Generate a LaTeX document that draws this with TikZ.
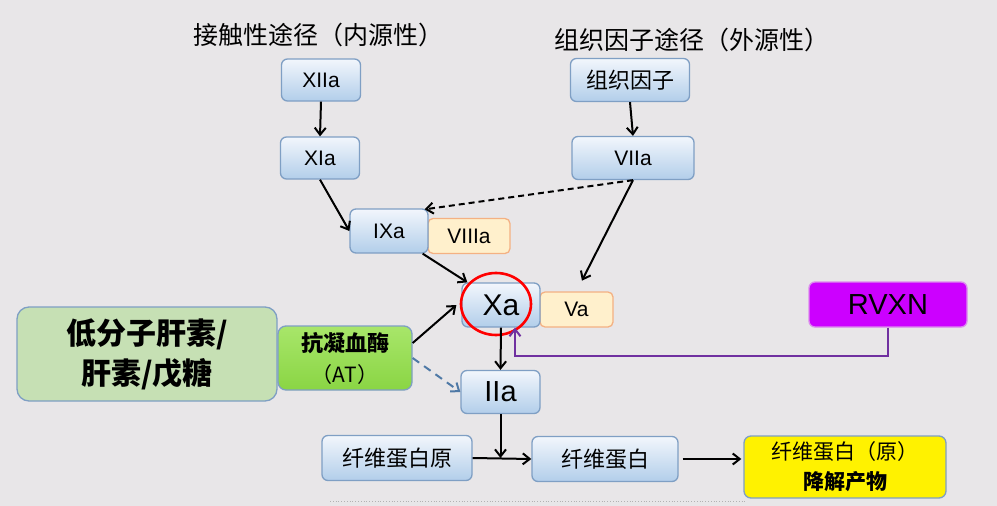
\documentclass[tikz,border=0pt]{standalone}
\usepackage{fontspec}
\setmainfont{Liberation Sans}
\newfontfamily\cjk{Noto Sans CJK SC}
\usepackage{xcolor}
\usetikzlibrary{arrows.meta, shapes.geometric}

\definecolor{bgc}{HTML}{E8E6E8}
\definecolor{bluetop}{HTML}{F2F6FC}
\definecolor{bluebot}{HTML}{B2CEEA}
\definecolor{blueline}{HTML}{7F9FC4}
\definecolor{orgfill}{HTML}{FFF0CC}
\definecolor{orgline}{HTML}{F4B183}
\definecolor{greenfill}{HTML}{C6E0B4}
\definecolor{limetop}{HTML}{A8E66A}
\definecolor{limebot}{HTML}{8AD544}
\definecolor{rvfill}{HTML}{CC00FF}
\definecolor{rvline}{HTML}{DC8AEE}
\definecolor{purplearr}{HTML}{7030A0}
\definecolor{dasharr}{HTML}{4F79A6}

\begin{document}
\begin{tikzpicture}[
    x=1pt, y=-1pt,
    >={Straight Barb[length=7pt,width=11pt]},
    factor/.style   = {draw=blueline, line width=1.3pt, rounded corners=6pt,
                       top color=bluetop, bottom color=bluebot,
                       inner sep=0pt, align=center,
                       font=\fontsize{21}{24}\selectfont},
    cofactor/.style = {draw=orgline, fill=orgfill, line width=1.3pt,
                       rounded corners=5pt, inner sep=0pt,
                       font=\fontsize{21}{24}\selectfont},
    drug/.style     = {draw=blueline, line width=1.3pt, rounded corners=12pt,
                       inner sep=0pt, align=center},
    head/.style     = {font=\cjk\fontsize{25}{28}\selectfont},
    arr/.style      = {->, line width=2pt},
    cn/.style       = {font=\cjk\fontsize{22}{26}\selectfont}
]

\useasboundingbox (0,0) rectangle (997,506);
\fill[bgc] (0,0) rectangle (997,506);

% ---------------- pathway titles ----------------
\node[head] (intr) at (318,35) {接触性途径（内源性）};
\node[head] (extr) at (692,40) {组织因子途径（外源性）};

% ---------------- intrinsic column ----------------
\node[factor, minimum width=79pt, minimum height=42pt] (xiia) at (321,80)  {XIIa};
\node[factor, minimum width=79pt, minimum height=42pt] (xia)  at (320,158) {XIa};

% ---------------- extrinsic column ----------------
\node[factor, cn, minimum width=119pt, minimum height=43pt] (tf)   at (630,80)  {组织因子};
\node[factor, minimum width=122pt, minimum height=43pt]     (viia) at (633,158) {VIIa};

% ---------------- tenase / prothrombinase ----------------
\node[cofactor, minimum width=82pt, minimum height=35pt] (viiia) at (469,236) {\raisebox{-3pt}{VIIIa}};
\node[factor, minimum width=78pt, minimum height=44pt]   (ixa)   at (389,231) {IXa};
\node[cofactor, minimum width=73pt, minimum height=35pt] (va)    at (576.5,309.5) {\raisebox{-3pt}{Va}};
\node[factor, minimum width=78pt, minimum height=44pt,
      font=\fontsize{30}{32}\selectfont]                 (xa)    at (501,305) {Xa};
\draw[red, line width=2.6pt] (496,304) ellipse [x radius=35, y radius=31];

% ---------------- inhibitors ----------------
\node[draw=rvline, fill=rvfill, line width=1.3pt, rounded corners=6pt,
      minimum width=158pt, minimum height=45pt, inner sep=0pt,
      font=\fontsize{29}{32}\selectfont] (rvxn) at (888,304.5) {RVXN};
\node[drug, fill=greenfill, minimum width=260pt, minimum height=94pt,
      font=\cjk\bfseries\fontsize{30}{40}\selectfont] (lmwh) at (147,354)
      {低分子肝素/\\肝素/戊糖};
\node[drug, top color=limetop, bottom color=limebot, rounded corners=8pt,
      minimum width=134pt, minimum height=64pt,
      font=\cjk\fontsize{21}{31}\selectfont] (at) at (345,358)
      {{\bfseries\fontsize{22}{31}\selectfont 抗凝血酶}\\（AT）};

% ---------------- common pathway ----------------
\node[factor, minimum width=79pt, minimum height=43pt,
      font=\fontsize{29}{32}\selectfont] (iia) at (500.5,392) {IIa};
\node[factor, cn, minimum width=150pt, minimum height=45pt] (fbg) at (397,458) {纤维蛋白原};
\node[factor, cn, minimum width=146pt, minimum height=45pt] (fb)  at (605,459) {纤维蛋白};
\node[draw=blueline, fill=yellow, line width=1.3pt, rounded corners=7pt,
      minimum width=202pt, minimum height=62pt, inner sep=0pt, align=center,
      font=\cjk\fontsize{21}{30}\selectfont] (fdp) at (845,467)
      {纤维蛋白（原）\\{\bfseries 降解产物}};

\coordinate (join) at (iia.south |- fbg.east);

% ============= cascade arrows =============
\draw[arr] (xiia.south) -- (xia.north);
\draw[arr] (tf.south) -- (viia.north);
\draw[arr] (xia.south) -- (ixa.west);
\draw[arr, dash pattern=on 6pt off 4pt] (viia.south) -- ([xshift=-4pt,yshift=-1pt]ixa.north east);
\draw[arr, shorten >=12pt] (viia.south) -- (va.north);
\draw[arr] ([xshift=-6pt]ixa.south east) -- ([xshift=6pt]xa.north west);
\draw[arr] (xa.south) -- (iia.north);
\draw[arr] (iia.south) -- (join);
\draw[arr] (fbg.east) -- (fb.west);
\draw[arr, shorten <=4pt, shorten >=2pt] (fb.east) -- (fb.east -| fdp.west);

% ============= inhibition paths =============
\draw[arr] ([yshift=15pt]at.east) -- ([xshift=-5pt]xa.west);
\draw[arr, draw=dasharr, dash pattern=on 8pt off 6pt] (at.east) -- (iia.west);
\draw[arr, draw=purplearr] (rvxn.south) -- ++(0,28)
      -| ([xshift=14pt]xa.south);

% bottom dotted rule
\draw[gray!60, dotted, line width=0.8pt] (330,501) -- (745,501);

\end{tikzpicture}
\end{document}
